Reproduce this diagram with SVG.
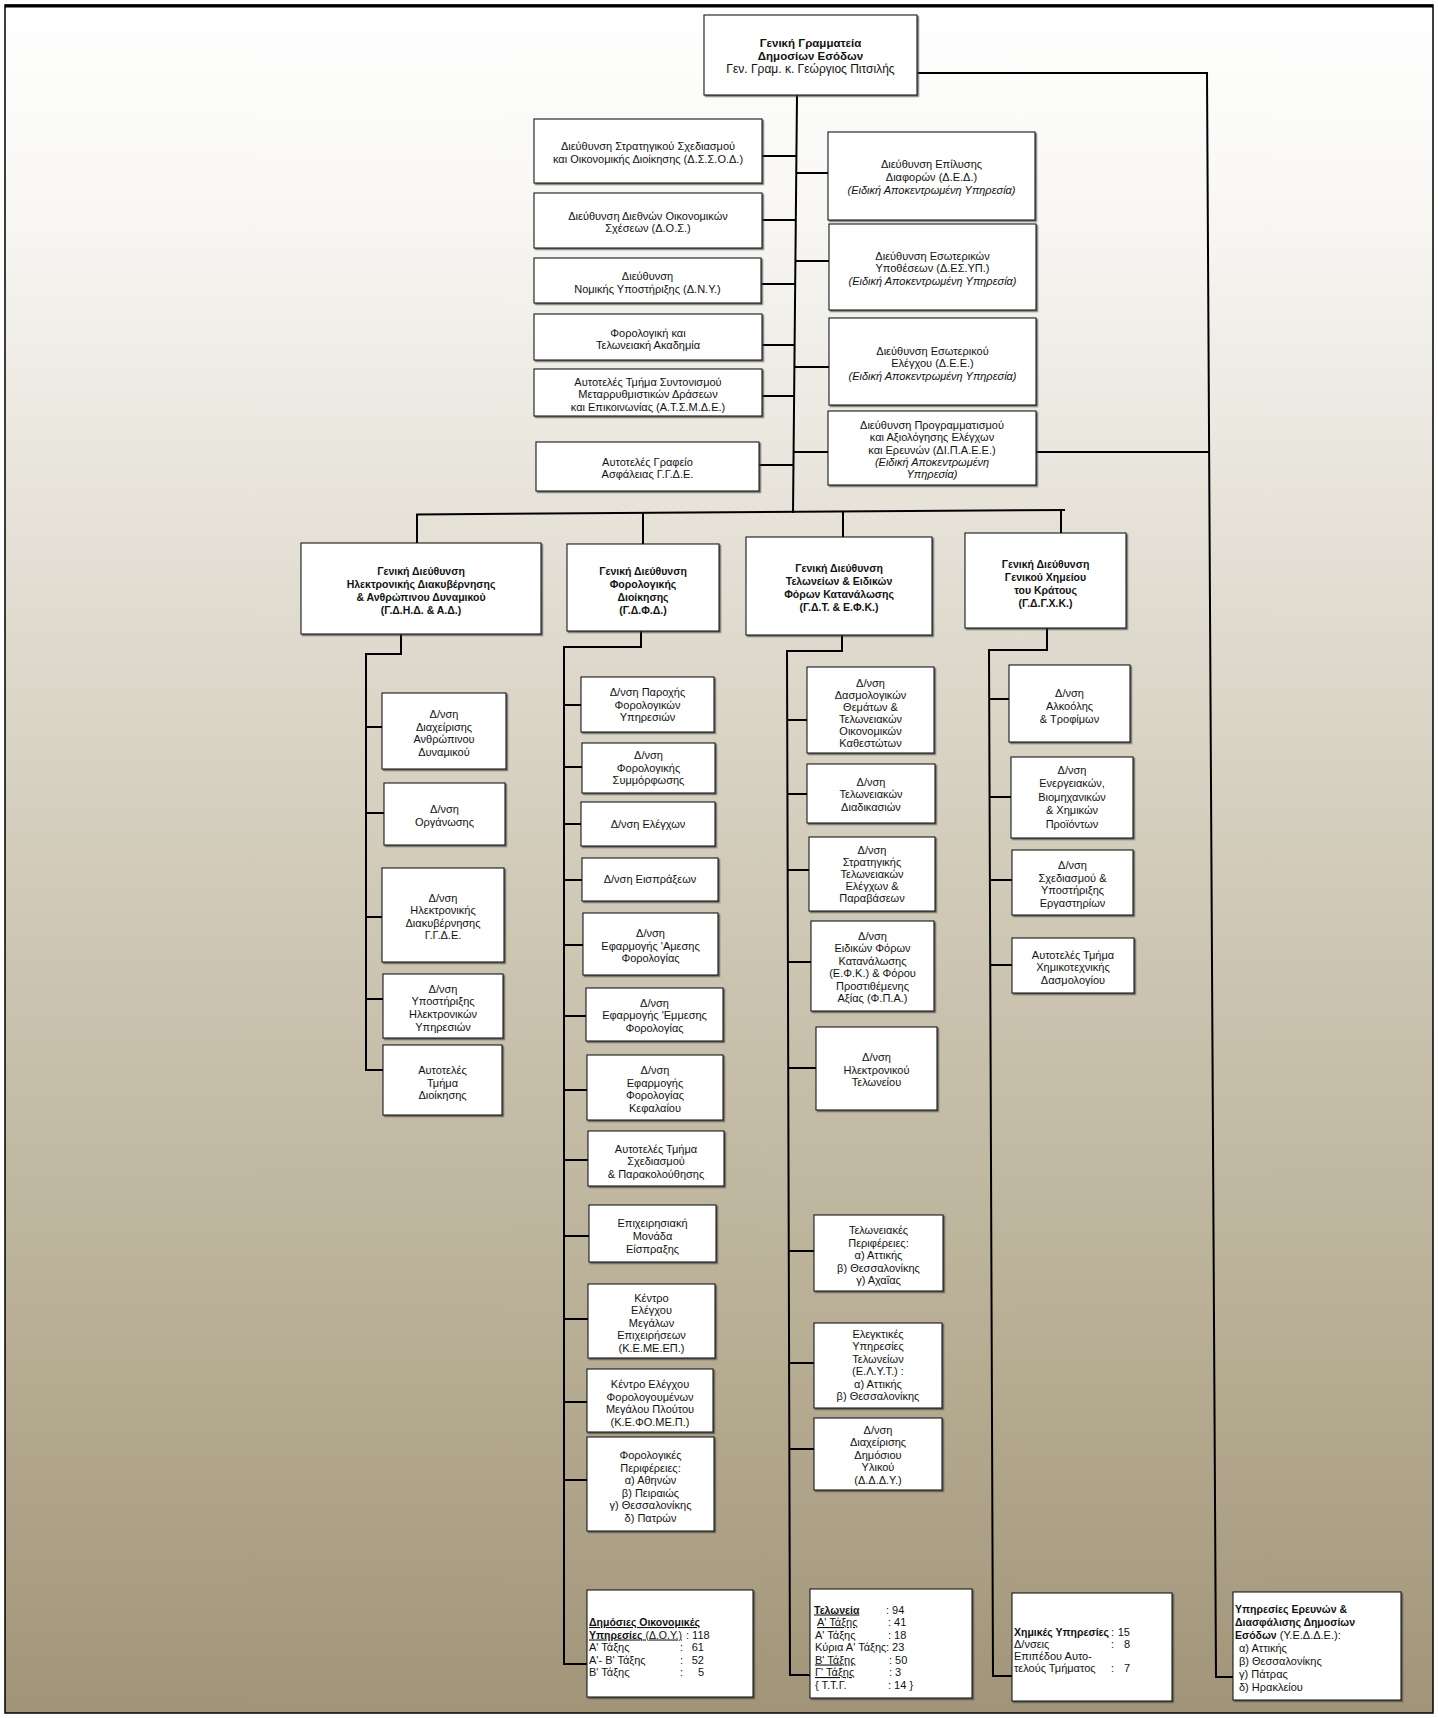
<svg xmlns="http://www.w3.org/2000/svg" width="1438" height="1718" viewBox="0 0 1438 1718">
<defs>
<linearGradient id="bg" x1="0" y1="0" x2="0" y2="1">
<stop offset="0" stop-color="#ffffff"/>
<stop offset="0.12" stop-color="#f8f7f4"/>
<stop offset="0.3" stop-color="#e6e2d8"/>
<stop offset="0.55" stop-color="#cdc6b3"/>
<stop offset="0.8" stop-color="#b6ac92"/>
<stop offset="1" stop-color="#a19479"/>
</linearGradient>
<filter id="ds" x="-5%" y="-5%" width="115%" height="115%">
<feDropShadow dx="1.4" dy="1.4" stdDeviation="0.5" flood-color="#3a3a3a" flood-opacity="0.75"/>
</filter>
<style>
.bx{fill:#fff;stroke:#1a1a1a;stroke-width:1.1;filter:url(#ds)}
.t{font-family:"Liberation Sans",Arial,sans-serif;font-size:11px;fill:#111;text-anchor:middle}
.l{text-anchor:start}
.e{text-anchor:end}
.b{font-weight:bold;font-size:10.5px}
.i{font-style:italic}
.u{text-decoration:underline}
.ttl{font-size:12px}
.ttlb{font-size:11.5px;font-weight:bold}
.c{fill:none;stroke:#000;stroke-width:2}
</style>
</defs>
<rect x="5" y="5" width="1428" height="1708" fill="url(#bg)" stroke="#000" stroke-width="1.5"/>
<line x1="5" y1="6" x2="1433" y2="6" stroke="#000" stroke-width="3"/>

<g id="connectors" class="c">
<path d="M797,95 L793,513"/>
<path d="M416,514.5 L1065,510"/>
<path d="M417,514 V543 M643,513 V544 M843,512 V537 M1061,510 V533"/>
<path d="M762,156 H796 M762,220 H796 M761,284 H795.5 M762,345 H795 M762,396 H795 M759,465 H794"/>
<path d="M796,173 H828 M795.5,261 H829 M795,367 H829 M794,452 H828"/>
<path d="M1036,452 H1209"/>
<path d="M917,73 H1207 L1216,1677 H1233"/>
<path d="M401,634 V654 H366 V1070 H383 M366,727 H382 M366,813 H384 M366,917 H382 M366,999 H383"/>
<path d="M641,631 V647 H564 V1664 H587 M564,705 H581 M564,767 H582 M564,824 H581 M564,880 H582 M564,945 H583 M564,1016 H586 M564,1090 H587 M564,1160 H588 M564,1236 H589 M564,1319 H588 M564,1402 H587 M564,1480 H587"/>
<path d="M842,635 V651 H787 L790,1675 H810 M787,720 H807 M787,794 H807 M788,870 H809 M788,962 H811 M788,1068 H816 M789,1251 H814 M789,1363 H814 M790,1449 H814"/>
<path d="M1047,628 V650 H989 L993,1676 H1012 M989,699 H1009 M989,797 H1011 M990,880 H1012 M990,965 H1012"/>
</g>

<g id="n-ggde"><rect class="bx" x="704" y="15" width="213" height="80"/>
<text class="t"><tspan class="ttlb" x="810.5" y="46.5">Γενική Γραμματεία</tspan><tspan class="ttlb" x="810.5" y="59.5">Δημοσίων Εσόδων</tspan><tspan class="ttl" x="810.5" y="73">Γεν. Γραμ. κ. Γεώργιος Πιτσιλής</tspan></text></g>

<g id="n-dssod"><rect class="bx" x="534" y="119" width="228" height="64"/>
<text class="t"><tspan x="648" y="149.5">Διεύθυνση Στρατηγικού Σχεδιασμού</tspan><tspan x="648" y="162.5">και Οικονομικής Διοίκησης (Δ.Σ.Σ.Ο.Δ.)</tspan></text></g>
<g id="n-dos"><rect class="bx" x="534" y="193" width="228" height="55"/>
<text class="t"><tspan x="648" y="219.5">Διεύθυνση Διεθνών Οικονομικών</tspan><tspan x="648" y="231.5">Σχέσεων (Δ.Ο.Σ.)</tspan></text></g>
<g id="n-dny"><rect class="bx" x="534" y="258" width="227" height="45"/>
<text class="t"><tspan x="647.5" y="279.5">Διεύθυνση</tspan><tspan x="647.5" y="292.5">Νομικής Υποστήριξης (Δ.Ν.Υ.)</tspan></text></g>
<g id="n-akad"><rect class="bx" x="534" y="314" width="228" height="46"/>
<text class="t"><tspan x="648" y="336.5">Φορολογική και</tspan><tspan x="648" y="348.5">Τελωνειακή Ακαδημία</tspan></text></g>
<g id="n-atsmde"><rect class="bx" x="534" y="369" width="228" height="47"/>
<text class="t"><tspan x="648" y="385.5">Αυτοτελές Τμήμα Συντονισμού</tspan><tspan x="648" y="398">Μεταρρυθμιστικών Δράσεων</tspan><tspan x="648" y="410.5">και Επικοινωνίας (Α.Τ.Σ.Μ.Δ.Ε.)</tspan></text></g>
<g id="n-asfaleia"><rect class="bx" x="536" y="442" width="223" height="49"/>
<text class="t"><tspan x="647.5" y="465.5">Αυτοτελές Γραφείο</tspan><tspan x="647.5" y="477.5">Ασφάλειας Γ.Γ.Δ.Ε.</tspan></text></g>

<g id="n-ded"><rect class="bx" x="828" y="132" width="207" height="88"/>
<text class="t"><tspan x="931.5" y="167.5">Διεύθυνση  Επίλυσης</tspan><tspan x="931.5" y="180.5">Διαφορών (Δ.Ε.Δ.)</tspan><tspan class="i" x="931.5" y="193.5">(Ειδική Αποκεντρωμένη Υπηρεσία)</tspan></text></g>
<g id="n-desyp"><rect class="bx" x="829" y="224" width="207" height="86"/>
<text class="t"><tspan x="932.5" y="259.5">Διεύθυνση  Εσωτερικών</tspan><tspan x="932.5" y="272">Υποθέσεων (Δ.ΕΣ.ΥΠ.)</tspan><tspan class="i" x="932.5" y="284.5">(Ειδική Αποκεντρωμένη Υπηρεσία)</tspan></text></g>
<g id="n-dee"><rect class="bx" x="829" y="318" width="207" height="87"/>
<text class="t"><tspan x="932.5" y="354.5">Διεύθυνση  Εσωτερικού</tspan><tspan x="932.5" y="366.5">Ελέγχου (Δ.Ε.Ε.)</tspan><tspan class="i" x="932.5" y="379.5">(Ειδική Αποκεντρωμένη Υπηρεσία)</tspan></text></g>
<g id="n-dipaee"><rect class="bx" x="828" y="411" width="208" height="74"/>
<text class="t"><tspan x="932" y="428.5">Διεύθυνση  Προγραμματισμού</tspan><tspan x="932" y="440.5">και Αξιολόγησης Ελέγχων</tspan><tspan x="932" y="453.5">και Ερευνών (ΔΙ.Π.Α.Ε.Ε.)</tspan><tspan class="i" x="932" y="466">(Ειδική Αποκεντρωμένη</tspan><tspan class="i" x="932" y="478">Υπηρεσία)</tspan></text></g>

<g id="n-gdhd"><rect class="bx" x="301" y="543" width="240" height="91"/>
<text class="t b"><tspan x="421" y="574.5">Γενική Διεύθυνση</tspan><tspan x="421" y="587.5">Ηλεκτρονικής Διακυβέρνησης</tspan><tspan x="421" y="600.5">&amp; Ανθρώπινου Δυναμικού</tspan><tspan x="421" y="613.5">(Γ.Δ.Η.Δ. &amp; Α.Δ.)</tspan></text></g>
<g id="n-gdfd"><rect class="bx" x="567" y="544" width="152" height="87"/>
<text class="t b"><tspan x="643" y="574.5">Γενική Διεύθυνση</tspan><tspan x="643" y="587.5">Φορολογικής</tspan><tspan x="643" y="600.5">Διοίκησης</tspan><tspan x="643" y="613.5">(Γ.Δ.Φ.Δ.)</tspan></text></g>
<g id="n-gdt"><rect class="bx" x="746" y="537" width="186" height="98"/>
<text class="t b"><tspan x="839" y="571.5">Γενική Διεύθυνση</tspan><tspan x="839" y="584.5">Τελωνείων &amp; Ειδικών</tspan><tspan x="839" y="597.5">Φόρων Κατανάλωσης</tspan><tspan x="839" y="610.5">(Γ.Δ.Τ. &amp; Ε.Φ.Κ.)</tspan></text></g>
<g id="n-gdgxk"><rect class="bx" x="965" y="533" width="161" height="95"/>
<text class="t b"><tspan x="1045.5" y="567.5">Γενική Διεύθυνση</tspan><tspan x="1045.5" y="580.5">Γενικού Χημείου</tspan><tspan x="1045.5" y="593.5">του Κράτους</tspan><tspan x="1045.5" y="606.5">(Γ.Δ.Γ.Χ.Κ.)</tspan></text></g>

<g id="n-c1a"><rect class="bx" x="382" y="693" width="124" height="76"/>
<text class="t"><tspan x="444" y="717.5">Δ/νση</tspan><tspan x="444" y="730.5">Διαχείρισης</tspan><tspan x="444" y="742.5">Ανθρώπινου</tspan><tspan x="444" y="755.5">Δυναμικού</tspan></text></g>
<g id="n-c1b"><rect class="bx" x="384" y="783" width="121" height="62"/>
<text class="t"><tspan x="444.5" y="812.5">Δ/νση</tspan><tspan x="444.5" y="825.5">Οργάνωσης</tspan></text></g>
<g id="n-c1c"><rect class="bx" x="382" y="868" width="122" height="94"/>
<text class="t"><tspan x="443" y="901.5">Δ/νση</tspan><tspan x="443" y="914">Ηλεκτρονικής</tspan><tspan x="443" y="926.5">Διακυβέρνησης</tspan><tspan x="443" y="939">Γ.Γ.Δ.Ε.</tspan></text></g>
<g id="n-c1d"><rect class="bx" x="383" y="974" width="120" height="64"/>
<text class="t"><tspan x="443" y="992.5">Δ/νση</tspan><tspan x="443" y="1004.5">Υποστήριξης</tspan><tspan x="443" y="1017.5">Ηλεκτρονικών</tspan><tspan x="443" y="1030.5">Υπηρεσιών</tspan></text></g>
<g id="n-c1e"><rect class="bx" x="383" y="1045" width="119" height="70"/>
<text class="t"><tspan x="442.5" y="1073.5">Αυτοτελές</tspan><tspan x="442.5" y="1086.5">Τμήμα</tspan><tspan x="442.5" y="1098.5">Διοίκησης</tspan></text></g>

<g id="n-c2a"><rect class="bx" x="581" y="677" width="133" height="55"/>
<text class="t"><tspan x="647.5" y="696">Δ/νση Παροχής</tspan><tspan x="647.5" y="708.5">Φορολογικών</tspan><tspan x="647.5" y="721">Υπηρεσιών</tspan></text></g>
<g id="n-c2b"><rect class="bx" x="582" y="743" width="133" height="50"/>
<text class="t"><tspan x="648.5" y="759">Δ/νση</tspan><tspan x="648.5" y="771.5">Φορολογικής</tspan><tspan x="648.5" y="784">Συμμόρφωσης</tspan></text></g>
<g id="n-c2c"><rect class="bx" x="581" y="802" width="134" height="44"/>
<text class="t"><tspan x="648" y="828">Δ/νση Ελέγχων</tspan></text></g>
<g id="n-c2d"><rect class="bx" x="582" y="858" width="136" height="43"/>
<text class="t"><tspan x="650" y="883">Δ/νση Εισπράξεων</tspan></text></g>
<g id="n-c2e"><rect class="bx" x="583" y="913" width="135" height="62"/>
<text class="t"><tspan x="650.5" y="937">Δ/νση</tspan><tspan x="650.5" y="949.5">Εφαρμογής 'Αμεσης</tspan><tspan x="650.5" y="962">Φορολογίας</tspan></text></g>
<g id="n-c2f"><rect class="bx" x="586" y="988" width="137" height="53"/>
<text class="t"><tspan x="654.5" y="1006.5">Δ/νση</tspan><tspan x="654.5" y="1019">Εφαρμογής 'Εμμεσης</tspan><tspan x="654.5" y="1031.5">Φορολογίας</tspan></text></g>
<g id="n-c2g"><rect class="bx" x="587" y="1055" width="136" height="65"/>
<text class="t"><tspan x="655" y="1074">Δ/νση</tspan><tspan x="655" y="1086.5">Εφαρμογής</tspan><tspan x="655" y="1099">Φορολογίας</tspan><tspan x="655" y="1111.5">Κεφαλαίου</tspan></text></g>
<g id="n-c2h"><rect class="bx" x="588" y="1131" width="136" height="55"/>
<text class="t"><tspan x="656" y="1152.5">Αυτοτελές Τμήμα</tspan><tspan x="656" y="1165">Σχεδιασμού</tspan><tspan x="656" y="1177.5">&amp; Παρακολούθησης</tspan></text></g>
<g id="n-c2i"><rect class="bx" x="589" y="1205" width="127" height="57"/>
<text class="t"><tspan x="652.5" y="1226.5">Επιχειρησιακή</tspan><tspan x="652.5" y="1240">Μονάδα</tspan><tspan x="652.5" y="1252.5">Είσπραξης</tspan></text></g>
<g id="n-c2j"><rect class="bx" x="588" y="1284" width="127" height="74"/>
<text class="t"><tspan x="651.5" y="1301.5">Κέντρο</tspan><tspan x="651.5" y="1314">Ελέγχου</tspan><tspan x="651.5" y="1326.5">Μεγάλων</tspan><tspan x="651.5" y="1339">Επιχειρήσεων</tspan><tspan x="651.5" y="1351.5">(Κ.Ε.ΜΕ.ΕΠ.)</tspan></text></g>
<g id="n-c2k"><rect class="bx" x="587" y="1369" width="126" height="63"/>
<text class="t"><tspan x="650" y="1387.5">Κέντρο Ελέγχου</tspan><tspan x="650" y="1400.5">Φορολογουμένων</tspan><tspan x="650" y="1412.5">Μεγάλου Πλούτου</tspan><tspan x="650" y="1425.5">(Κ.Ε.ΦΟ.ΜΕ.Π.)</tspan></text></g>
<g id="n-c2l"><rect class="bx" x="587" y="1437" width="127" height="94"/>
<text class="t"><tspan x="650.5" y="1458.5">Φορολογικές</tspan><tspan x="650.5" y="1471.5">Περιφέρειες:</tspan><tspan x="650.5" y="1484">α) Αθηνών</tspan><tspan x="650.5" y="1496.5">β) Πειραιώς</tspan><tspan x="650.5" y="1509">γ) Θεσσαλονίκης</tspan><tspan x="650.5" y="1521.5">δ) Πατρών</tspan></text></g>
<g id="n-doy"><rect class="bx" x="587" y="1590" width="166" height="107"/>
<text class="t l"><tspan x="589" y="1626" class="u" font-weight="bold" font-size="10.5">Δημόσιες Οικονομικές</tspan><tspan x="589" y="1638.5" class="u" font-weight="bold" font-size="10.5">Υπηρεσίες</tspan><tspan class="u" font-size="10.5"> (Δ.Ο.Υ.)</tspan><tspan x="686" y="1638.5">: 118</tspan><tspan x="589" y="1651">Α' Τάξης</tspan><tspan x="680" y="1651">:</tspan><tspan x="589" y="1663.5">Α'- Β' Τάξης</tspan><tspan x="680" y="1663.5">:</tspan><tspan x="589" y="1676">Β' Τάξης</tspan><tspan x="680" y="1676">:</tspan></text>
<text class="t e"><tspan x="704" y="1651">61</tspan><tspan x="704" y="1663.5">52</tspan><tspan x="704" y="1676">5</tspan></text></g>

<g id="n-c3a"><rect class="bx" x="807" y="667" width="127" height="86"/>
<text class="t"><tspan x="870.5" y="686.5">Δ/νση</tspan><tspan x="870.5" y="698.5">Δασμολογικών</tspan><tspan x="870.5" y="710.5">Θεμάτων &amp;</tspan><tspan x="870.5" y="722.5">Τελωνειακών</tspan><tspan x="870.5" y="734.5">Οικονομικών</tspan><tspan x="870.5" y="746.5">Καθεστώτων</tspan></text></g>
<g id="n-c3b"><rect class="bx" x="807" y="764" width="128" height="59"/>
<text class="t"><tspan x="871" y="785.5">Δ/νση</tspan><tspan x="871" y="797.5">Τελωνειακών</tspan><tspan x="871" y="810.5">Διαδικασιών</tspan></text></g>
<g id="n-c3c"><rect class="bx" x="809" y="837" width="126" height="74"/>
<text class="t"><tspan x="872" y="853.5">Δ/νση</tspan><tspan x="872" y="865.5">Στρατηγικής</tspan><tspan x="872" y="877.5">Τελωνειακών</tspan><tspan x="872" y="889.5">Ελέγχων &amp;</tspan><tspan x="872" y="901.5">Παραβάσεων</tspan></text></g>
<g id="n-c3d"><rect class="bx" x="811" y="921" width="123" height="90"/>
<text class="t"><tspan x="872.5" y="939.5">Δ/νση</tspan><tspan x="872.5" y="952">Ειδικών Φόρων</tspan><tspan x="872.5" y="964.5">Κατανάλωσης</tspan><tspan x="872.5" y="977">(Ε.Φ.Κ.) &amp; Φόρου</tspan><tspan x="872.5" y="989.5">Προστιθέμενης</tspan><tspan x="872.5" y="1002">Αξίας (Φ.Π.Α.)</tspan></text></g>
<g id="n-c3e"><rect class="bx" x="816" y="1027" width="121" height="83"/>
<text class="t"><tspan x="876.5" y="1061">Δ/νση</tspan><tspan x="876.5" y="1073.5">Ηλεκτρονικού</tspan><tspan x="876.5" y="1086">Τελωνείου</tspan></text></g>
<g id="n-c3f"><rect class="bx" x="814" y="1215" width="129" height="76"/>
<text class="t"><tspan x="878.5" y="1233.5">Τελωνειακές</tspan><tspan x="878.5" y="1246.5">Περιφέρειες:</tspan><tspan x="878.5" y="1259">α) Αττικής</tspan><tspan x="878.5" y="1271.5">β) Θεσσαλονίκης</tspan><tspan x="878.5" y="1284">γ) Αχαΐας</tspan></text></g>
<g id="n-c3g"><rect class="bx" x="814" y="1323" width="128" height="85"/>
<text class="t"><tspan x="878" y="1337.5">Ελεγκτικές</tspan><tspan x="878" y="1350">Υπηρεσίες</tspan><tspan x="878" y="1362.5">Τελωνείων</tspan><tspan x="878" y="1375">(Ε.Λ.Υ.Τ.) :</tspan><tspan x="878" y="1387.5">α) Αττικής</tspan><tspan x="878" y="1400">β) Θεσσαλονίκης</tspan></text></g>
<g id="n-c3h"><rect class="bx" x="814" y="1418" width="128" height="72"/>
<text class="t"><tspan x="878" y="1433.5">Δ/νση</tspan><tspan x="878" y="1446">Διαχείρισης</tspan><tspan x="878" y="1458.5">Δημόσιου</tspan><tspan x="878" y="1471">Υλικού</tspan><tspan x="878" y="1483.5">(Δ.Δ.Δ.Υ.)</tspan></text></g>
<g id="n-telwneia"><rect class="bx" x="810" y="1589" width="162" height="109"/>
<text class="t l"><tspan x="814" y="1613.5" class="u" font-weight="bold" font-size="10.5">Τελωνεία</tspan><tspan x="886" y="1613.5">: 94</tspan><tspan x="817" y="1626" class="u">Α' Τάξης</tspan><tspan x="888" y="1626">: 41</tspan><tspan x="815" y="1638.5">Α' Τάξης</tspan><tspan x="888" y="1638.5">: 18</tspan><tspan x="815" y="1651">Κύρια Α' Τάξης</tspan><tspan x="886" y="1651">: 23</tspan><tspan x="815" y="1663.5" class="u">Β' Τάξης</tspan><tspan x="889" y="1663.5">: 50</tspan><tspan x="815" y="1676" class="u">Γ' Τάξης</tspan><tspan x="889" y="1676">:  3</tspan><tspan x="815" y="1688.5">{ Τ.Τ.Γ.</tspan><tspan x="888" y="1688.5">: 14 }</tspan></text></g>

<g id="n-c4a"><rect class="bx" x="1009" y="665" width="121" height="77"/>
<text class="t"><tspan x="1069.5" y="696.5">Δ/νση</tspan><tspan x="1069.5" y="709.5">Αλκοόλης</tspan><tspan x="1069.5" y="722.5">&amp; Τροφίμων</tspan></text></g>
<g id="n-c4b"><rect class="bx" x="1011" y="757" width="122" height="81"/>
<text class="t"><tspan x="1072" y="773.5">Δ/νση</tspan><tspan x="1072" y="787">Ενεργειακών,</tspan><tspan x="1072" y="800.5">Βιομηχανικών</tspan><tspan x="1072" y="814">&amp; Χημικών</tspan><tspan x="1072" y="827.5">Προϊόντων</tspan></text></g>
<g id="n-c4c"><rect class="bx" x="1012" y="850" width="121" height="65"/>
<text class="t"><tspan x="1072.5" y="868.5">Δ/νση</tspan><tspan x="1072.5" y="881.5">Σχεδιασμού &amp;</tspan><tspan x="1072.5" y="894">Υποστήριξης</tspan><tspan x="1072.5" y="906.5">Εργαστηρίων</tspan></text></g>
<g id="n-c4d"><rect class="bx" x="1012" y="938" width="122" height="55"/>
<text class="t"><tspan x="1073" y="958.5">Αυτοτελές Τμήμα</tspan><tspan x="1073" y="971">Χημικοτεχνικής</tspan><tspan x="1073" y="983.5">Δασμολογίου</tspan></text></g>
<g id="n-xhmikes"><rect class="bx" x="1012" y="1593" width="160" height="108"/>
<text class="t l"><tspan x="1014" y="1635.5" font-weight="bold" font-size="10.5">Χημικές Υπηρεσίες</tspan><tspan x="1111" y="1635.5">:</tspan><tspan x="1014" y="1647.5">Δ/νσεις</tspan><tspan x="1111" y="1647.5">:</tspan><tspan x="1014" y="1659.5">Επιπέδου Αυτο-</tspan><tspan x="1014" y="1671.5">τελούς Τμήματος</tspan><tspan x="1111" y="1671.5">:</tspan></text>
<text class="t e"><tspan x="1130" y="1635.5">15</tspan><tspan x="1130" y="1647.5">8</tspan><tspan x="1130" y="1671.5">7</tspan></text></g>
<g id="n-yedde"><rect class="bx" x="1233" y="1592" width="168" height="108"/>
<text class="t l"><tspan x="1235" y="1612.5" font-weight="bold" font-size="10.5">Υπηρεσίες Ερευνών &amp;</tspan><tspan x="1235" y="1625.5" font-weight="bold" font-size="10.5">Διασφάλισης Δημοσίων</tspan><tspan x="1235" y="1638.5" font-weight="bold" font-size="10.5">Εσόδων</tspan><tspan> (Υ.Ε.Δ.Δ.Ε.):</tspan><tspan x="1239" y="1651.5">α) Αττικής</tspan><tspan x="1239" y="1664.5">β) Θεσσαλονίκης</tspan><tspan x="1239" y="1677.5">γ) Πάτρας</tspan><tspan x="1239" y="1690.5">δ) Ηρακλείου</tspan></text></g>
</svg>
